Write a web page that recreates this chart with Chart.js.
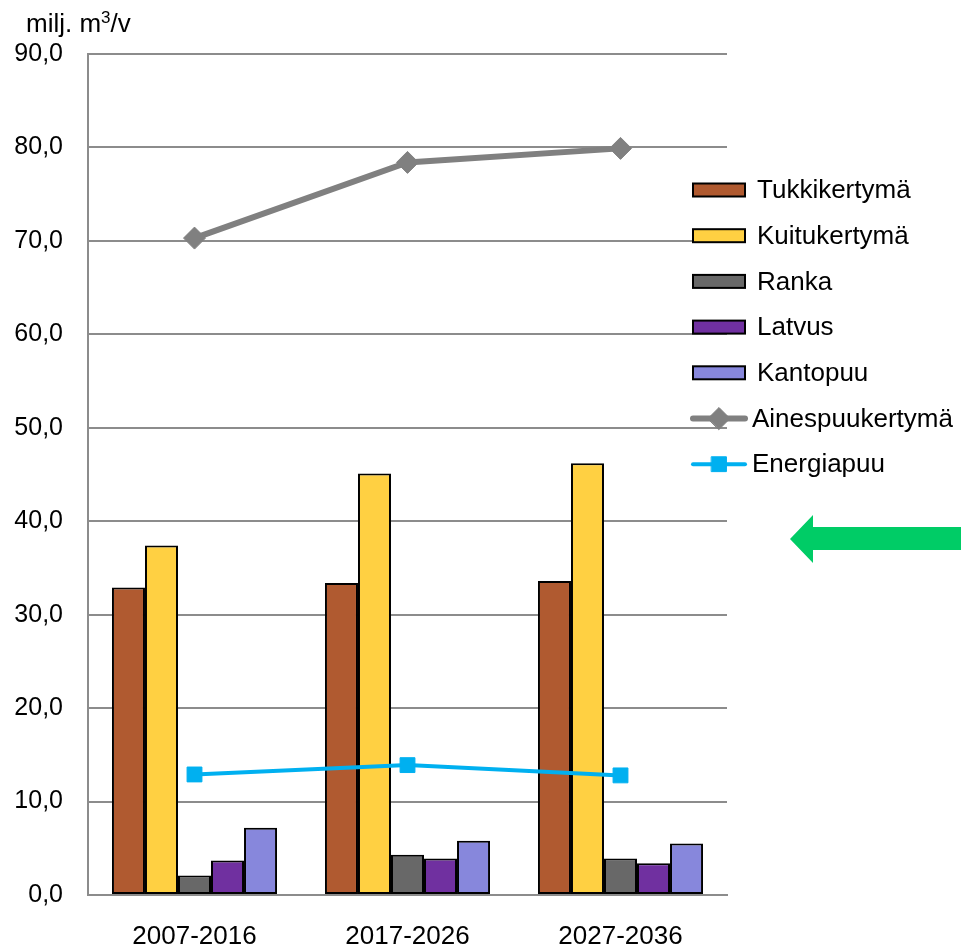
<!DOCTYPE html>
<html>
<head>
<meta charset="utf-8">
<script src="https://cdn.jsdelivr.net/npm/chart.js@4"></script>
<style>
  html, body { margin: 0; padding: 0; background: #fff; }
  #wrap { width: 961px; height: 946px; }
</style>
</head>
<body>
<div id="wrap"><canvas id="myChart" width="961" height="946"></canvas></div>
<script>
// Chart data
var categories = ["2007-2016", "2017-2026", "2027-2036"];
var tukkikertyma = [32.9, 33.4, 33.6];
var kuitukertyma = [37.4, 45.1, 46.2];
var ranka = [2.1, 4.3, 3.9];
var latvus = [3.7, 3.9, 3.4];
var kantopuu = [7.2, 5.8, 5.5];
var ainespuukertyma = [70.3, 78.4, 79.9];
var energiapuu = [12.9, 13.9, 12.8];
var yTicks = [0, 10, 20, 30, 40, 50, 60, 70, 80, 90];

var FONT = "'Liberation Sans', Arial, sans-serif";
var gridColor = "#8c8c8c";

Chart.defaults.font.family = FONT;
Chart.defaults.color = "#000";

// Draws the legend, unit label and the green arrow
var extras = {
    id: "extras",
    afterDraw: function (chart) {
        var ctx = chart.ctx;
        ctx.save();

        // unit label
        ctx.fillStyle = "#000";
        ctx.font = "26px " + FONT;
        ctx.textBaseline = "alphabetic";
        ctx.textAlign = "left";
        ctx.fillText("milj. m", 26, 32);
        var w = ctx.measureText("milj. m").width;
        ctx.font = "17px " + FONT;
        ctx.fillText("3", 26 + w, 23);
        var w2 = ctx.measureText("3").width;
        ctx.font = "26px " + FONT;
        ctx.fillText("/v", 26 + w + w2, 32);

        // legend
        var x0 = 693, y0 = 190, step = 45.7;
        chart.data.datasets.forEach(function (ds, i) {
            var y = y0 + i * step;
            ctx.textBaseline = "middle";
            ctx.font = "26px " + FONT;
            if (ds.type === "line") {
                ctx.strokeStyle = ds.borderColor;
                ctx.lineWidth = ds.borderWidth;
                ctx.lineCap = "round";
                ctx.beginPath();
                ctx.moveTo(x0, y);
                ctx.lineTo(x0 + 52, y);
                ctx.stroke();
                ctx.fillStyle = ds.backgroundColor;
                ctx.lineWidth = 1;
                Chart.helpers.drawPoint(ctx, {
                    pointStyle: ds.pointStyle,
                    radius: ds.pointRadius,
                    borderWidth: 1
                }, x0 + 26, y);
                ctx.fillStyle = "#000";
                ctx.fillText(ds.label, x0 + 59, y + 1);
            } else {
                ctx.fillStyle = ds.backgroundColor;
                ctx.fillRect(x0, y - 6.5, 52, 13);
                ctx.strokeStyle = "#000";
                ctx.lineWidth = 2;
                ctx.strokeRect(x0, y - 6.5, 52, 13);
                ctx.fillStyle = "#000";
                ctx.fillText(ds.label, x0 + 64, y + 1);
            }
        });

        // green arrow
        ctx.fillStyle = "#00CC66";
        ctx.beginPath();
        ctx.moveTo(790, 539);
        ctx.lineTo(813, 515);
        ctx.lineTo(813, 527);
        ctx.lineTo(961, 527);
        ctx.lineTo(961, 550);
        ctx.lineTo(813, 550);
        ctx.lineTo(813, 563);
        ctx.closePath();
        ctx.fill();

        ctx.restore();
    }
};

function barSet(label, data, color) {
    return {
        type: "bar",
        label: label,
        data: data,
        backgroundColor: color,
        borderColor: "#000",
        borderWidth: 2,
        borderSkipped: false
    };
}

new Chart("myChart", {
    data: {
        labels: categories,
        datasets: [
            barSet("Tukkikertymä", tukkikertyma, "#B05A30"),
            barSet("Kuitukertymä", kuitukertyma, "#FFD042"),
            barSet("Ranka", ranka, "#686868"),
            barSet("Latvus", latvus, "#7030A0"),
            barSet("Kantopuu", kantopuu, "#8787DC"),
            {
                type: "line",
                label: "Ainespuukertymä",
                data: ainespuukertyma,
                borderColor: "#808080",
                backgroundColor: "#808080",
                borderWidth: 6,
                pointStyle: "rectRot",
                pointRadius: 11,
                pointBorderWidth: 1,
                tension: 0,
                order: -1
            },
            {
                type: "line",
                label: "Energiapuu",
                data: energiapuu,
                borderColor: "#00B0F0",
                backgroundColor: "#00B0F0",
                borderWidth: 4,
                pointStyle: "rect",
                pointRadius: 10.5,
                pointBorderWidth: 1,
                tension: 0,
                order: -2
            }
        ]
    },
    options: {
        responsive: false,
        animation: false,
        layout: { padding: { top: 54, right: 234, left: 0, bottom: 0 } },
        datasets: {
            bar: { categoryPercentage: 0.775, barPercentage: 1 }
        },
        plugins: {
            legend: { display: false },
            tooltip: { enabled: false }
        },
        scales: {
            x: {
                grid: { display: false, drawTicks: false },
                border: { display: true, color: gridColor, width: 2 },
                ticks: { font: { size: 26 }, color: "#000", padding: 26, maxRotation: 0 },
                afterFit: function (scale) { scale.height = 51; }
            },
            y: {
                min: 0,
                max: 90,
                afterBuildTicks: function (scale) {
                    scale.ticks = yTicks.map(function (v) { return { value: v }; });
                },
                grid: { color: gridColor, lineWidth: 2, drawTicks: false },
                border: { display: true, color: gridColor, width: 2 },
                ticks: {
                    font: { size: 25 },
                    color: "#000",
                    padding: 25,
                    callback: function (v) { return v.toFixed(1).replace(".", ","); }
                },
                afterFit: function (scale) { scale.width = 88; }
            }
        }
    },
    plugins: [extras]
});
</script>
</body>
</html>
